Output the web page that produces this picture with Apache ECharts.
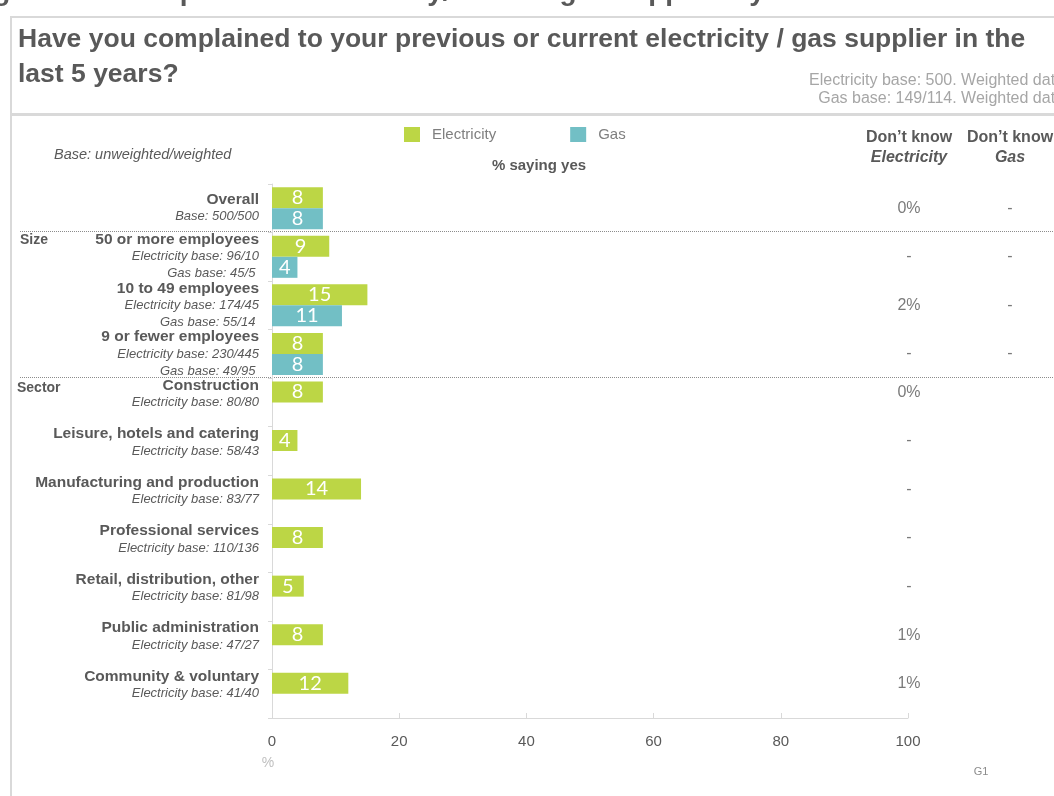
<!DOCTYPE html>
<html>
<head>
<meta charset="utf-8">
<script src="https://cdn.jsdelivr.net/npm/echarts@6/dist/echarts.min.js"></script>
<style>
  html, body { margin: 0; padding: 0; background: #ffffff; }
  #chart { width: 1054px; height: 796px; }
</style>
</head>
<body>
<div id="chart"></div>
<script>
// Rows of the chart, top to bottom
const rowNames = [
  'Overall',
  '50 or more employees',
  '10 to 49 employees',
  '9 or fewer employees',
  'Construction',
  'Leisure, hotels and catering',
  'Manufacturing and production',
  'Professional services',
  'Retail, distribution, other',
  'Public administration',
  'Community & voluntary'
];
const rowBases = [
  ['Base: 500/500'],
  ['Electricity base: 96/10', 'Gas base: 45/5 '],
  ['Electricity base: 174/45', 'Gas base: 55/14 '],
  ['Electricity base: 230/445', 'Gas base: 49/95 '],
  ['Electricity base: 80/80'],
  ['Electricity base: 58/43'],
  ['Electricity base: 83/77'],
  ['Electricity base: 110/136'],
  ['Electricity base: 81/98'],
  ['Electricity base: 47/27'],
  ['Electricity base: 41/40']
];
// % saying yes
const electricityYes = [8, 9, 15, 8, 8, 4, 14, 8, 5, 8, 12];
const gasYes = [8, 4, 11, 8, null, null, null, null, null, null, null];
// Don't know columns
const dontKnowElectricity = ['0%', '-', '2%', '-', '0%', '-', '-', '-', '-', '1%', '1%'];
const dontKnowGas = ['-', '-', '-', '-', '', '', '', '', '', '', ''];
// Value axis ticks
const xTicks = [0, 20, 40, 60, 80, 100];

const GREEN = '#bcd645';
const TEAL = '#72bfc5';
const TEXT = '#595959';
const SANS = 'Liberation Sans, Arial, sans-serif';

// Row label: bold name, italic base lines; single-series rows get a spacer
// so the text sits beside the electricity bar
function rowLabel(name) {
  const i = rowNames.indexOf(name);
  let s = '{b|' + name + '}';
  rowBases[i].forEach(t => { s += '\n{i|' + t + '}'; });
  if (rowBases[i].length === 1 && i > 0) s += '\n{sp| }';
  return s;
}

function columnData(texts, dx) {
  return texts.map((t, i) => ({
    value: [100, rowNames[i]],
    text: t,
    label: { offset: [dx, gasYes[i] == null ? -10 : 0] }
  }));
}

const chart = echarts.init(document.getElementById('chart'), null, { renderer: 'canvas' });

const valueLabel = {
  show: true,
  position: 'inside',
  color: '#ffffff',
  fontSize: 20,
  fontFamily: 'Lato, Open Sans, sans-serif'
};
const columnLabel = {
  show: true,
  position: 'inside',
  color: TEXT,
  fontSize: 16,
  fontFamily: SANS,
  formatter: p => p.data.text
};

const option = {
  backgroundColor: '#ffffff',
  animation: false,
  textStyle: { fontFamily: SANS },
  legend: {
    left: 399,
    top: 122,
    icon: 'rect',
    itemWidth: 16,
    itemHeight: 15,
    itemGap: 74,
    textStyle: { color: '#7f7f7f', fontSize: 15, padding: [0, 0, 0, 7] },
    data: ['Electricity', 'Gas']
  },
  grid: { left: 272, right: 146, top: 184, bottom: 78, containLabel: false },
  xAxis: {
    type: 'value',
    min: 0,
    max: 100,
    interval: 20,
    axisLine: { show: true, lineStyle: { color: '#d9d9d9', width: 1 } },
    axisTick: { show: true, inside: true, length: 5, lineStyle: { color: '#d9d9d9' } },
    splitLine: { show: false },
    axisLabel: {
      color: TEXT,
      fontSize: 15,
      margin: 16,
      formatter: v => (xTicks.indexOf(v) >= 0 ? String(v) : '')
    }
  },
  yAxis: {
    type: 'category',
    inverse: true,
    data: rowNames,
    axisLine: { show: true, lineStyle: { color: '#d9d9d9', width: 1 } },
    axisTick: { show: true, length: 4, lineStyle: { color: '#d9d9d9' } },
    axisLabel: {
      margin: 13,
      align: 'right',
      formatter: rowLabel,
      rich: {
        b: { fontSize: 15.5, fontWeight: 'bold', color: TEXT, lineHeight: 17, align: 'right' },
        i: { fontSize: 13, fontStyle: 'italic', color: TEXT, lineHeight: 17, align: 'right' },
        sp: { fontSize: 10, lineHeight: 17 }
      }
    }
  },
  series: [
    {
      name: 'Electricity',
      type: 'bar',
      data: electricityYes,
      barWidth: 21,
      barGap: '0%',
      itemStyle: { color: GREEN },
      label: valueLabel
    },
    {
      name: 'Gas',
      type: 'bar',
      data: gasYes,
      barWidth: 21,
      barGap: '0%',
      itemStyle: { color: TEAL },
      label: valueLabel
    },
    {
      name: 'dkElectricity',
      type: 'scatter',
      symbolSize: 0,
      silent: true,
      data: columnData(dontKnowElectricity, 1),
      label: columnLabel
    },
    {
      name: 'dkGas',
      type: 'scatter',
      symbolSize: 0,
      silent: true,
      data: columnData(dontKnowGas, 102),
      label: columnLabel
    }
  ],
  graphic: [
    // frame
    { type: 'line', shape: { x1: 11, y1: 17, x2: 11, y2: 796 }, style: { stroke: '#d9d9d9', lineWidth: 2 } },
    { type: 'line', shape: { x1: 10, y1: 17, x2: 1054, y2: 17 }, style: { stroke: '#d9d9d9', lineWidth: 2 } },
    { type: 'rect', shape: { x: 10, y: 113, width: 1044, height: 3 }, style: { fill: '#d9d9d9' } },
    // figure caption, cut by the top edge
    {
      type: 'text', x: 975, y: 6,
      style: {
        text: 'Figure 6.1: Complaints to electricity/ natural gas supplier by size and sector',
        fill: TEXT, font: 'bold 28px ' + SANS, align: 'right', verticalAlign: 'bottom'
      }
    },
    // question
    {
      type: 'text', left: 18, top: 22,
      style: {
        text: 'Have you complained to your previous or current electricity / gas supplier in the\nlast 5 years?',
        fill: TEXT, font: 'bold 26.5px ' + SANS, lineHeight: 35
      }
    },
    {
      type: 'text', x: 1064, y: 72,
      style: {
        text: 'Electricity base: 500. Weighted data\nGas base: 149/114. Weighted data',
        fill: '#a6a6a6', font: '16px ' + SANS,
        align: 'right', lineHeight: 18
      }
    },
    {
      type: 'text', x: 54, y: 155,
      style: { text: 'Base: unweighted/weighted', fill: TEXT, font: 'italic 14.5px ' + SANS, verticalAlign: 'middle' }
    },
    {
      type: 'text', x: 539, y: 166,
      style: { text: '% saying yes', fill: TEXT, font: 'bold 15px ' + SANS, align: 'center', verticalAlign: 'middle' }
    },
    // don't know headers
    {
      type: 'text', x: 909, y: 128,
      style: {
        text: "{a|Don\u2019t know}\n{b|Electricity}",
        align: 'center',
        rich: {
          a: { fill: TEXT, font: 'bold 16px ' + SANS, lineHeight: 20, align: 'center' },
          b: { fill: TEXT, font: 'italic bold 16px ' + SANS, lineHeight: 20, align: 'center' }
        }
      }
    },
    {
      type: 'text', x: 1010, y: 128,
      style: {
        text: "{a|Don\u2019t know}\n{b|Gas}",
        align: 'center',
        rich: {
          a: { fill: TEXT, font: 'bold 16px ' + SANS, lineHeight: 20, align: 'center' },
          b: { fill: TEXT, font: 'italic bold 16px ' + SANS, lineHeight: 20, align: 'center' }
        }
      }
    },
    // group separators
    { type: 'line', shape: { x1: 20, y1: 231.5, x2: 1054, y2: 231.5 }, style: { stroke: '#8c8c8c', lineWidth: 1, lineDash: [1, 1] } },
    { type: 'line', shape: { x1: 20, y1: 377.5, x2: 1054, y2: 377.5 }, style: { stroke: '#8c8c8c', lineWidth: 1, lineDash: [1, 1] } },
    {
      type: 'text', x: 20, y: 240,
      style: { text: 'Size', fill: TEXT, font: 'bold 14px ' + SANS, verticalAlign: 'middle' }
    },
    {
      type: 'text', x: 17, y: 388,
      style: { text: 'Sector', fill: TEXT, font: 'bold 14px ' + SANS, verticalAlign: 'middle' }
    },
    {
      type: 'text', x: 268, y: 763,
      style: { text: '%', fill: '#bfbfbf', font: '14px ' + SANS, align: 'center', verticalAlign: 'middle' }
    },
    {
      type: 'text', x: 981, y: 772,
      style: { text: 'G1', fill: '#8c8c8c', font: '11px ' + SANS, align: 'center', verticalAlign: 'middle' }
    }
  ]
};

chart.setOption(option);
</script>
</body>
</html>
